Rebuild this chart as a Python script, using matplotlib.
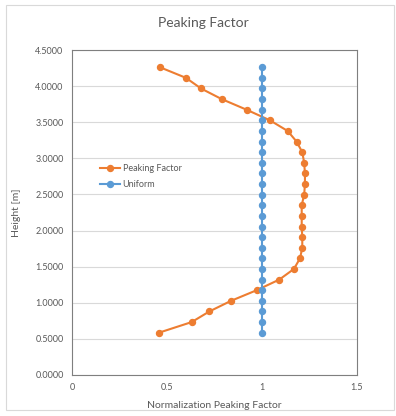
import matplotlib.pyplot as plt
from matplotlib.patches import Rectangle

# heights [m]
height = [0.586, 0.733, 0.880, 1.027, 1.174, 1.321, 1.468, 1.615, 1.762, 1.909,
          2.056, 2.203, 2.350, 2.497, 2.644, 2.791, 2.938, 3.085, 3.232, 3.379,
          3.526, 3.673, 3.820, 3.967, 4.114, 4.261]
peaking = [0.458, 0.630, 0.723, 0.837, 0.972, 1.091, 1.168, 1.200, 1.212, 1.212,
           1.209, 1.209, 1.209, 1.222, 1.226, 1.226, 1.222, 1.212, 1.182, 1.135,
           1.042, 0.919, 0.788, 0.679, 0.600, 0.463]
uniform = [1.0] * len(height)

x_ticks = [0, 0.5, 1, 1.5]
x_tick_labels = ['0', '0.5', '1', '1.5']
y_ticks = [0, 0.5, 1.0, 1.5, 2.0, 2.5, 3.0, 3.5, 4.0, 4.5]

plt.rcParams['font.family'] = ['Lato', 'DejaVu Sans']
gray = '#595959'

fig = plt.figure(figsize=(3.96, 4.16), dpi=100)
fig.patches.append(Rectangle((0.016, 0.014), 0.978, 0.975, transform=fig.transFigure,
                             fill=False, edgecolor='#d9d9d9', linewidth=0.8))
ax = fig.add_axes([72 / 396, 1 - 375 / 416, 285 / 396, 325 / 416])

ax.plot(peaking, height, color='#ED7D31', marker='o', markersize=4.3, linewidth=1.5,
        label='Peaking Factor')
ax.plot(uniform, height, color='#5B9BD5', marker='o', markersize=4.3, linewidth=1.5,
        label='Uniform')

ax.set_xlim(0, 1.5)
ax.set_ylim(0, 4.5)
ax.set_xticks(x_ticks)
ax.set_xticklabels(x_tick_labels)
ax.set_yticks(y_ticks)
ax.set_yticklabels(['%.4f' % v for v in y_ticks])
ax.tick_params(length=0, labelsize=6.5, labelcolor=gray, pad=6)
ax.grid(axis='y', color='#d9d9d9', linewidth=0.8)
ax.set_axisbelow(True)
for s in ax.spines.values():
    s.set_color('#7f7f7f')
    s.set_linewidth(0.8)

ax.set_xlabel('Normalization Peaking Factor', fontsize=7.5, color=gray, labelpad=6)
ax.set_ylabel('Height [m]', fontsize=7.5, color=gray, labelpad=10)
fig.text(203 / 396, 1 - 23 / 416, 'Peaking Factor', ha='center', va='center',
         fontsize=10, color=gray)

ax.legend(loc='upper left', bbox_to_anchor=(0.07, 0.675), frameon=False,
          fontsize=6.5, labelcolor=gray, handlelength=2.2, handletextpad=0.3,
          labelspacing=0.85)

fig.savefig('out.png', dpi=100)
